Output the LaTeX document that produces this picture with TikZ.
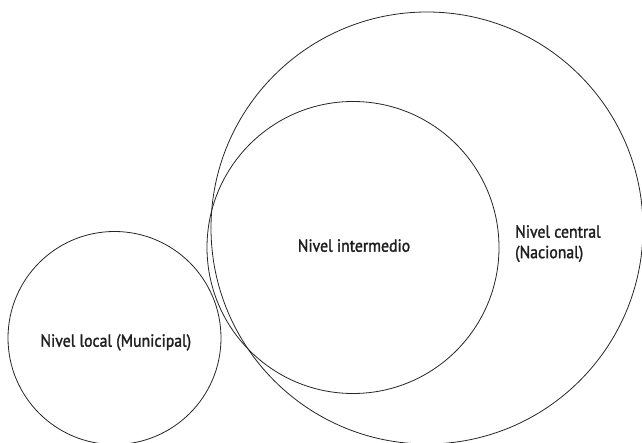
\documentclass[tikz,border=0pt]{standalone}
\usepackage{fontspec}
\setmainfont{PT Sans}[FakeStretch=0.9,FakeBold=1.6]
\begin{document}
\begin{tikzpicture}[x=1pt,y=1pt,
  ring/.style={circle,draw=black!85,line width=0.8pt,inner sep=0pt},
  lbl/.style={font=\fontsize{17.5}{20.5}\selectfont,text=black!88,inner sep=0pt}]
\useasboundingbox (0,0) rectangle (642,442);
\node[ring,minimum size=432pt] (central) at (427,214) {};
\node[ring,minimum size=292pt] (inter) at (353,194.5) {};
\node[ring,minimum size=213pt] (local) at (114.5,104) {};
\node[lbl,anchor=base] (tlocal) at (115.8,95.3) {Nivel local (Municipal)};
\node[lbl,anchor=base] (tinter) at (354,190.3) {Nivel intermedio};
\node[lbl,anchor=north west,align=left] (tcentral) at (515,217) {Nivel central\\(Nacional)};
\end{tikzpicture}
\end{document}
